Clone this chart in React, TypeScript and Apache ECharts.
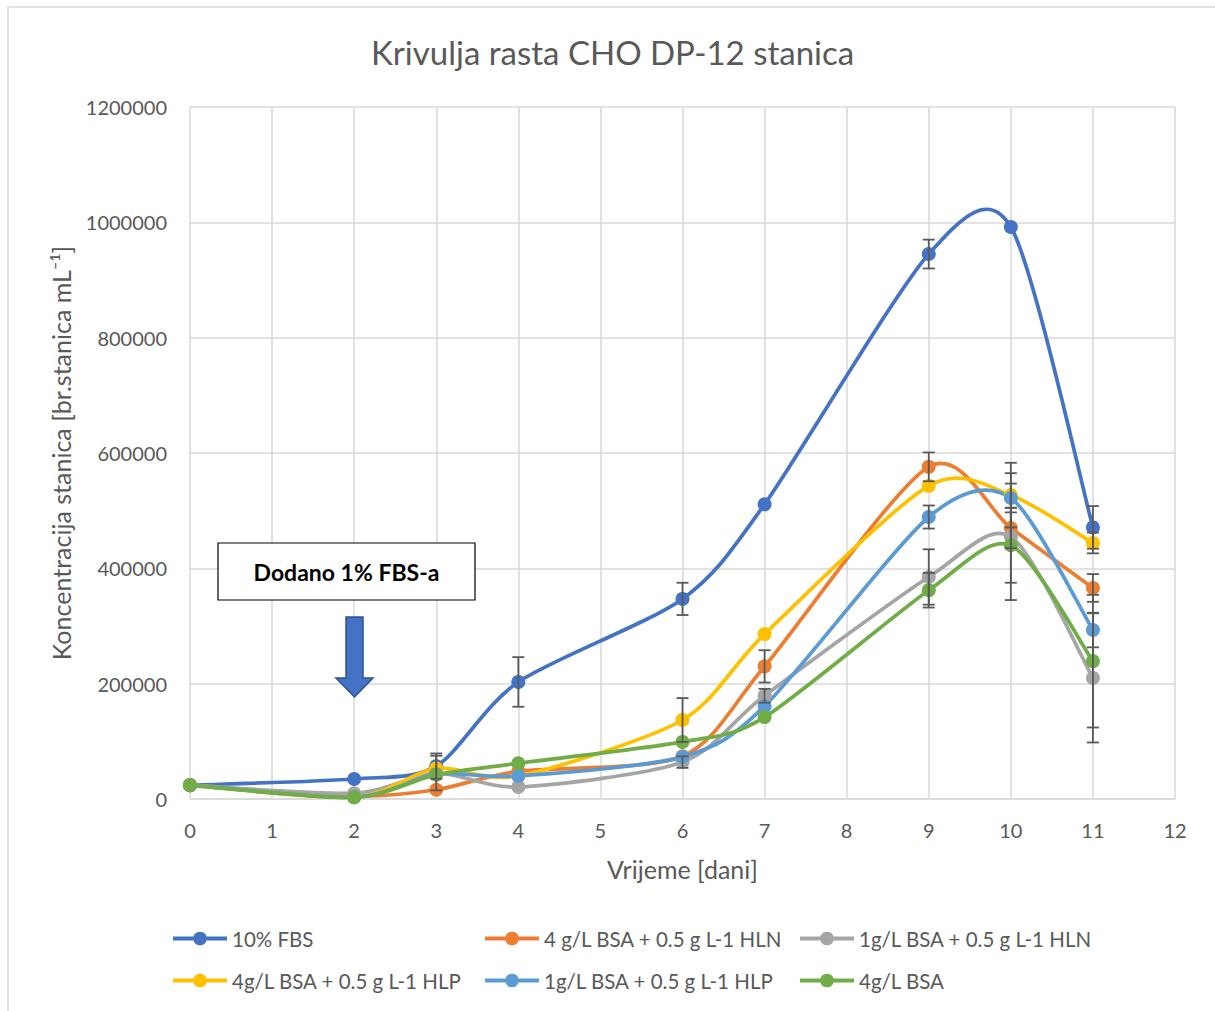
import React, { useEffect, useRef } from "react";
import * as echarts from "echarts";

const days = [0, 2, 3, 4, 6, 7, 9, 10, 11];

const seriesNames = [
  "10% FBS",
  "4 g/L BSA + 0.5 g L-1 HLN",
  "1g/L BSA + 0.5 g L-1 HLN",
  "4g/L BSA + 0.5 g L-1 HLP",
  "1g/L BSA + 0.5 g L-1 HLP",
  "4g/L BSA",
];

const colors = ["#4472C4", "#ED7D31", "#A5A5A5", "#FFC000", "#5B9BD5", "#70AD47"];

const fbs = [24000, 34700, 57000, 203000, 347000, 511000, 945000, 992000, 471000];
const bsa4Hln = [24000, 5000, 16000, 48000, 74000, 230000, 576000, 470000, 366000];
const bsa1Hln = [24000, 10000, 45000, 21000, 64000, 179000, 385000, 455000, 210000];
const bsa4Hlp = [24000, 3000, 53000, 40000, 137000, 286000, 543000, 527000, 444000];
const bsa1Hlp = [24000, 3000, 43000, 40000, 73000, 161000, 489000, 522000, 293000];
const bsa4 = [24000, 3000, 42000, 62000, 99000, 142000, 362000, 440000, 239000];

const fbsErr = [0, 0, 22000, 43000, 28000, 0, 25000, 0, 37000];
const bsa4HlnErr = [0, 0, 0, 0, 0, 28000, 25000, 35000, 24000];
const bsa1HlnErr = [0, 0, 30000, 0, 10000, 12000, 48000, 110000, 112000];
const bsa4HlpErr = [0, 0, 0, 0, 38000, 0, 0, 56000, 18000];
const bsa1HlpErr = [0, 0, 0, 0, 0, 0, 20000, 25000, 30000];
const bsa4Err = [0, 0, 0, 0, 0, 0, 30000, 65000, 115000];

const xTicks = [0, 12, 1];
const yTicks = [0, 1200000, 200000];

const values = [fbs, bsa4Hln, bsa1Hln, bsa4Hlp, bsa1Hlp, bsa4];
const errors = [fbsErr, bsa4HlnErr, bsa1HlnErr, bsa4HlpErr, bsa1HlpErr, bsa4Err];

const FONT = "Lato, 'Noto Sans', sans-serif";
const GREY = "#595959";
const TENSION = 0.135;

export default function App() {
  const ref = useRef<HTMLDivElement>(null);

  useEffect(() => {
    document.body.style.margin = "0";
    const chart = echarts.init(ref.current!, null, { renderer: "svg" });

    // markers (and legend entries)
    const pointSeries = seriesNames.map((name, i) => ({
      name,
      type: "line",
      data: days.map((d, j) => [d, values[i][j]]),
      symbol: "circle",
      symbolSize: 14,
      itemStyle: { color: colors[i] },
      lineStyle: { color: colors[i], width: 3.5, opacity: 0 },
      z: 4,
    }));

    // smoothed curves (Excel-like Catmull-Rom beziers)
    const curveSeries = seriesNames.map((name, i) => {
      const vals = values[i];
      const n = days.length;
      const segs: number[][] = [];
      for (let j = 0; j < n - 1; j++) {
        const pj = Math.max(j - 1, 0);
        const nj = Math.min(j + 2, n - 1);
        segs.push([days[j], vals[j], days[j + 1], vals[j + 1], days[pj], vals[pj], days[nj], vals[nj]]);
      }
      return {
        type: "custom",
        name: name + " curve",
        data: segs,
        z: 3,
        silent: true,
        renderItem: (_params: any, api: any) => {
          const p0 = api.coord([api.value(0), api.value(1)]);
          const p1 = api.coord([api.value(2), api.value(3)]);
          const pp = api.coord([api.value(4), api.value(5)]);
          const pn = api.coord([api.value(6), api.value(7)]);
          const c1 = [p0[0] + (p1[0] - pp[0]) * TENSION, p0[1] + (p1[1] - pp[1]) * TENSION];
          const c2 = [p1[0] - (pn[0] - p0[0]) * TENSION, p1[1] - (pn[1] - p0[1]) * TENSION];
          return {
            type: "bezierCurve",
            shape: {
              x1: p0[0], y1: p0[1], x2: p1[0], y2: p1[1],
              cpx1: c1[0], cpy1: c1[1], cpx2: c2[0], cpy2: c2[1],
            },
            style: { stroke: colors[i], lineWidth: 3.7, fill: "none", lineCap: "round" },
          };
        },
      };
    });

    const errData: number[][] = [];
    values.forEach((vals, i) => {
      vals.forEach((v, j) => {
        if (errors[i][j] > 0) errData.push([days[j], v, errors[i][j]]);
      });
    });

    const errSeries = {
      type: "custom",
      name: "err",
      data: errData,
      z: 5,
      renderItem: (_params: any, api: any) => {
        const x = api.value(0);
        const y = api.value(1);
        const e = api.value(2);
        const top = api.coord([x, y + e]);
        const bot = api.coord([x, y - e]);
        const w = 6;
        const style = { stroke: GREY, lineWidth: 1.8 };
        return {
          type: "group",
          children: [
            { type: "line", shape: { x1: top[0], y1: top[1], x2: bot[0], y2: bot[1] }, style },
            { type: "line", shape: { x1: top[0] - w, y1: top[1], x2: top[0] + w, y2: top[1] }, style },
            { type: "line", shape: { x1: bot[0] - w, y1: bot[1], x2: bot[0] + w, y2: bot[1] }, style },
          ],
        };
      },
      silent: true,
    };

    const legendPos = [
      [166, 923],
      [478, 923],
      [793, 923],
      [166, 965],
      [478, 965],
      [793, 965],
    ];

    chart.setOption({
      animation: false,
      textStyle: { fontFamily: FONT },
      title: {
        text: "Krivulja rasta CHO DP-12 stanica",
        left: 366,
        top: 30,
        textStyle: { fontFamily: FONT, fontSize: 33, fontWeight: "normal", color: GREY },
      },
      legend: seriesNames.map((name, i) => ({
        data: [name],
        left: legendPos[i][0],
        top: legendPos[i][1],
        itemWidth: 54,
        itemHeight: 17,
        itemGap: 6,
        lineStyle: { opacity: 1, width: 4 },
        textStyle: { fontFamily: FONT, fontSize: 20.5, color: GREY },
        selectedMode: false,
      })),
      grid: { left: 190, right: 40, top: 107, bottom: 212 },
      xAxis: {
        type: "value",
        min: xTicks[0],
        max: xTicks[1],
        interval: xTicks[2],
        name: "Vrijeme [dani]",
        nameLocation: "middle",
        nameGap: 57,
        nameTextStyle: { fontFamily: FONT, fontSize: 25, color: GREY },
        axisLine: { lineStyle: { color: "#D9D9D9", width: 1.5 } },
        axisTick: { show: false },
        axisLabel: { fontFamily: FONT, fontSize: 20, color: GREY, margin: 21 },
        splitLine: { show: true, lineStyle: { color: "#D9D9D9", width: 1.5 } },
      },
      yAxis: {
        type: "value",
        min: yTicks[0],
        max: yTicks[1],
        interval: yTicks[2],
        name: "Koncentracija stanica [br.stanica mL⁻¹]",
        nameLocation: "middle",
        nameGap: 117,
        nameTextStyle: { fontFamily: FONT, fontSize: 25, color: GREY },
        axisLine: { show: false },
        axisTick: { show: false },
        axisLabel: {
          fontFamily: FONT,
          fontSize: 20,
          color: GREY,
          margin: 23,
          formatter: (v: number) => String(v),
        },
        splitLine: { show: true, lineStyle: { color: "#D9D9D9", width: 1.5 } },
      },
      graphic: [
        {
          type: "rect",
          shape: { x: 8, y: 7, width: 1230, height: 1030 },
          style: { fill: "none", stroke: "#D9D9D9", lineWidth: 1.5 },
          silent: true,
          z: -10,
        },
        {
          type: "rect",
          shape: { x: 218, y: 543, width: 257, height: 57 },
          style: { fill: "#FFFFFF", stroke: "#000000", lineWidth: 1.2 },
          z: 10,
        },
        {
          type: "text",
          x: 346.5,
          y: 571.5,
          style: {
            text: "Dodano 1% FBS-a",
            fontFamily: FONT,
            fontSize: 23,
            fontWeight: "bold",
            fill: "#000000",
            align: "center",
            verticalAlign: "middle",
          },
          z: 11,
        },
        {
          type: "polygon",
          shape: {
            points: [
              [346, 617],
              [363, 617],
              [363, 678],
              [373, 678],
              [354.5, 697],
              [336, 678],
              [346, 678],
            ],
          },
          style: { fill: "#4472C4", stroke: "#2F528F", lineWidth: 1.5 },
          z: 10,
        },
      ],
      series: [...curveSeries, ...pointSeries, errSeries],
    });

    return () => chart.dispose();
  }, []);

  return <div ref={ref} style={{ width: 1215, height: 1011 }} />;
}
